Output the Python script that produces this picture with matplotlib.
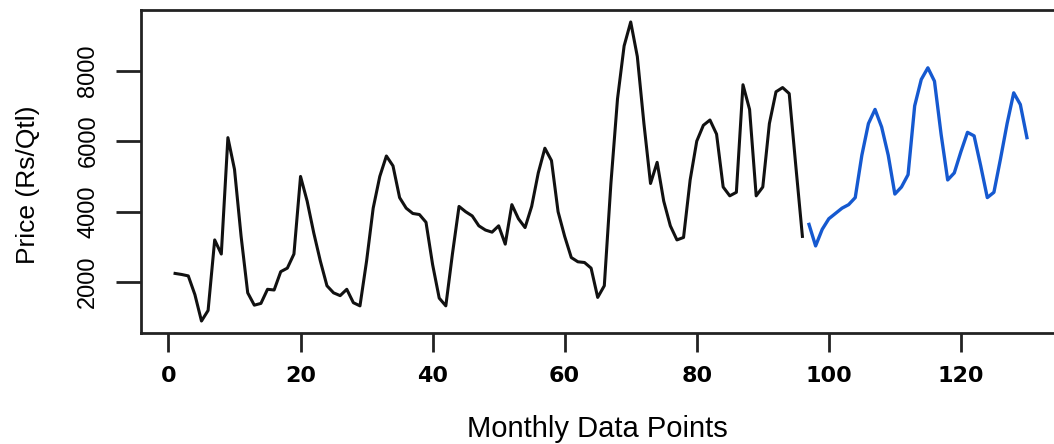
import numpy as np
import matplotlib
matplotlib.use("Agg")
import matplotlib.pyplot as plt

# observed monthly prices (months 1-96) and forecast (months 97-130)
observed = [
    2250, 2220, 2180, 1650, 900, 1200, 3200, 2800, 6100, 5200,
    3300, 1700, 1350, 1400, 1800, 1780, 2300, 2400, 2800, 5000,
    4300, 3400, 2600, 1900, 1700, 1620, 1800, 1420, 1330, 2600,
    4100, 5000, 5580, 5300, 4400, 4100, 3950, 3920, 3700, 2500,
    1550, 1330, 2800, 4150, 4000, 3880, 3600, 3480, 3420, 3600,
    3080, 4200, 3800, 3550, 4150, 5100, 5800, 5450, 4000, 3300,
    2700, 2580, 2560, 2400, 1570, 1900, 4800, 7200, 8700, 9380,
    8400, 6500, 4800, 5400, 4300, 3600, 3200, 3270, 4900, 6000,
    6450, 6600, 6200, 4700, 4450, 4550, 7600, 6900, 4450, 4700,
    6500, 7400, 7520, 7350, 5300, 3300,
]
forecast = [
    3640, 3030, 3500, 3800, 3950, 4100, 4200, 4400, 5600, 6500,
    6900, 6400, 5600, 4500, 4700, 5050, 7000, 7750, 8080, 7700,
    6200, 4900, 5100, 5700, 6250, 6150, 5300, 4400, 4550, 5500,
    6500, 7370, 7040, 6100,
]
obs_months = np.arange(1, len(observed) + 1)
fc_months = np.arange(len(observed) + 1, len(observed) + len(forecast) + 1)

x_ticks = [0, 20, 40, 60, 80, 100, 120]
y_ticks = [2000, 4000, 6000, 8000]

fig = plt.figure(figsize=(10.54, 4.44), dpi=100)
ax = fig.add_axes([141 / 1054, 111 / 444, 920 / 1054, 323 / 444])

ax.plot(obs_months, observed, color="#111111", lw=2.2)
ax.plot(fc_months, forecast, color="#1559d0", lw=2.4)

all_vals = observed + forecast
lo, hi = min(all_vals), max(all_vals)
pad = (hi - lo) * 0.04
ax.set_ylim(lo - pad, hi + pad)
n = len(all_vals)
ax.set_xlim(1 - (n - 1) * 0.04, n + (n - 1) * 0.04)

ax.set_xticks(x_ticks)
ax.set_yticks(y_ticks)
ax.set_xticklabels([str(t) for t in x_ticks], family="DejaVu Sans",
                   fontsize=16, fontweight="bold")
ax.set_yticklabels([str(t) for t in y_ticks], family="Liberation Sans",
                   fontsize=17, rotation=90, va="center")
ax.tick_params(axis="x", length=14, width=2, pad=10, color="#222222")
ax.tick_params(axis="y", length=18, width=2, pad=12, color="#222222")

for sp in ax.spines.values():
    sp.set_linewidth(2)
    sp.set_color("#222222")

fig.text(597 / 1054, 1 - 415 / 444, "Monthly Data Points",
         family="Liberation Sans", fontsize=21, ha="center", va="top")
fig.text(28 / 1054, 1 - 185 / 444, "Price (Rs/Qtl)", family="Liberation Sans",
         fontsize=19, rotation=90, ha="center", va="center")

fig.savefig("out.png", dpi=100)
